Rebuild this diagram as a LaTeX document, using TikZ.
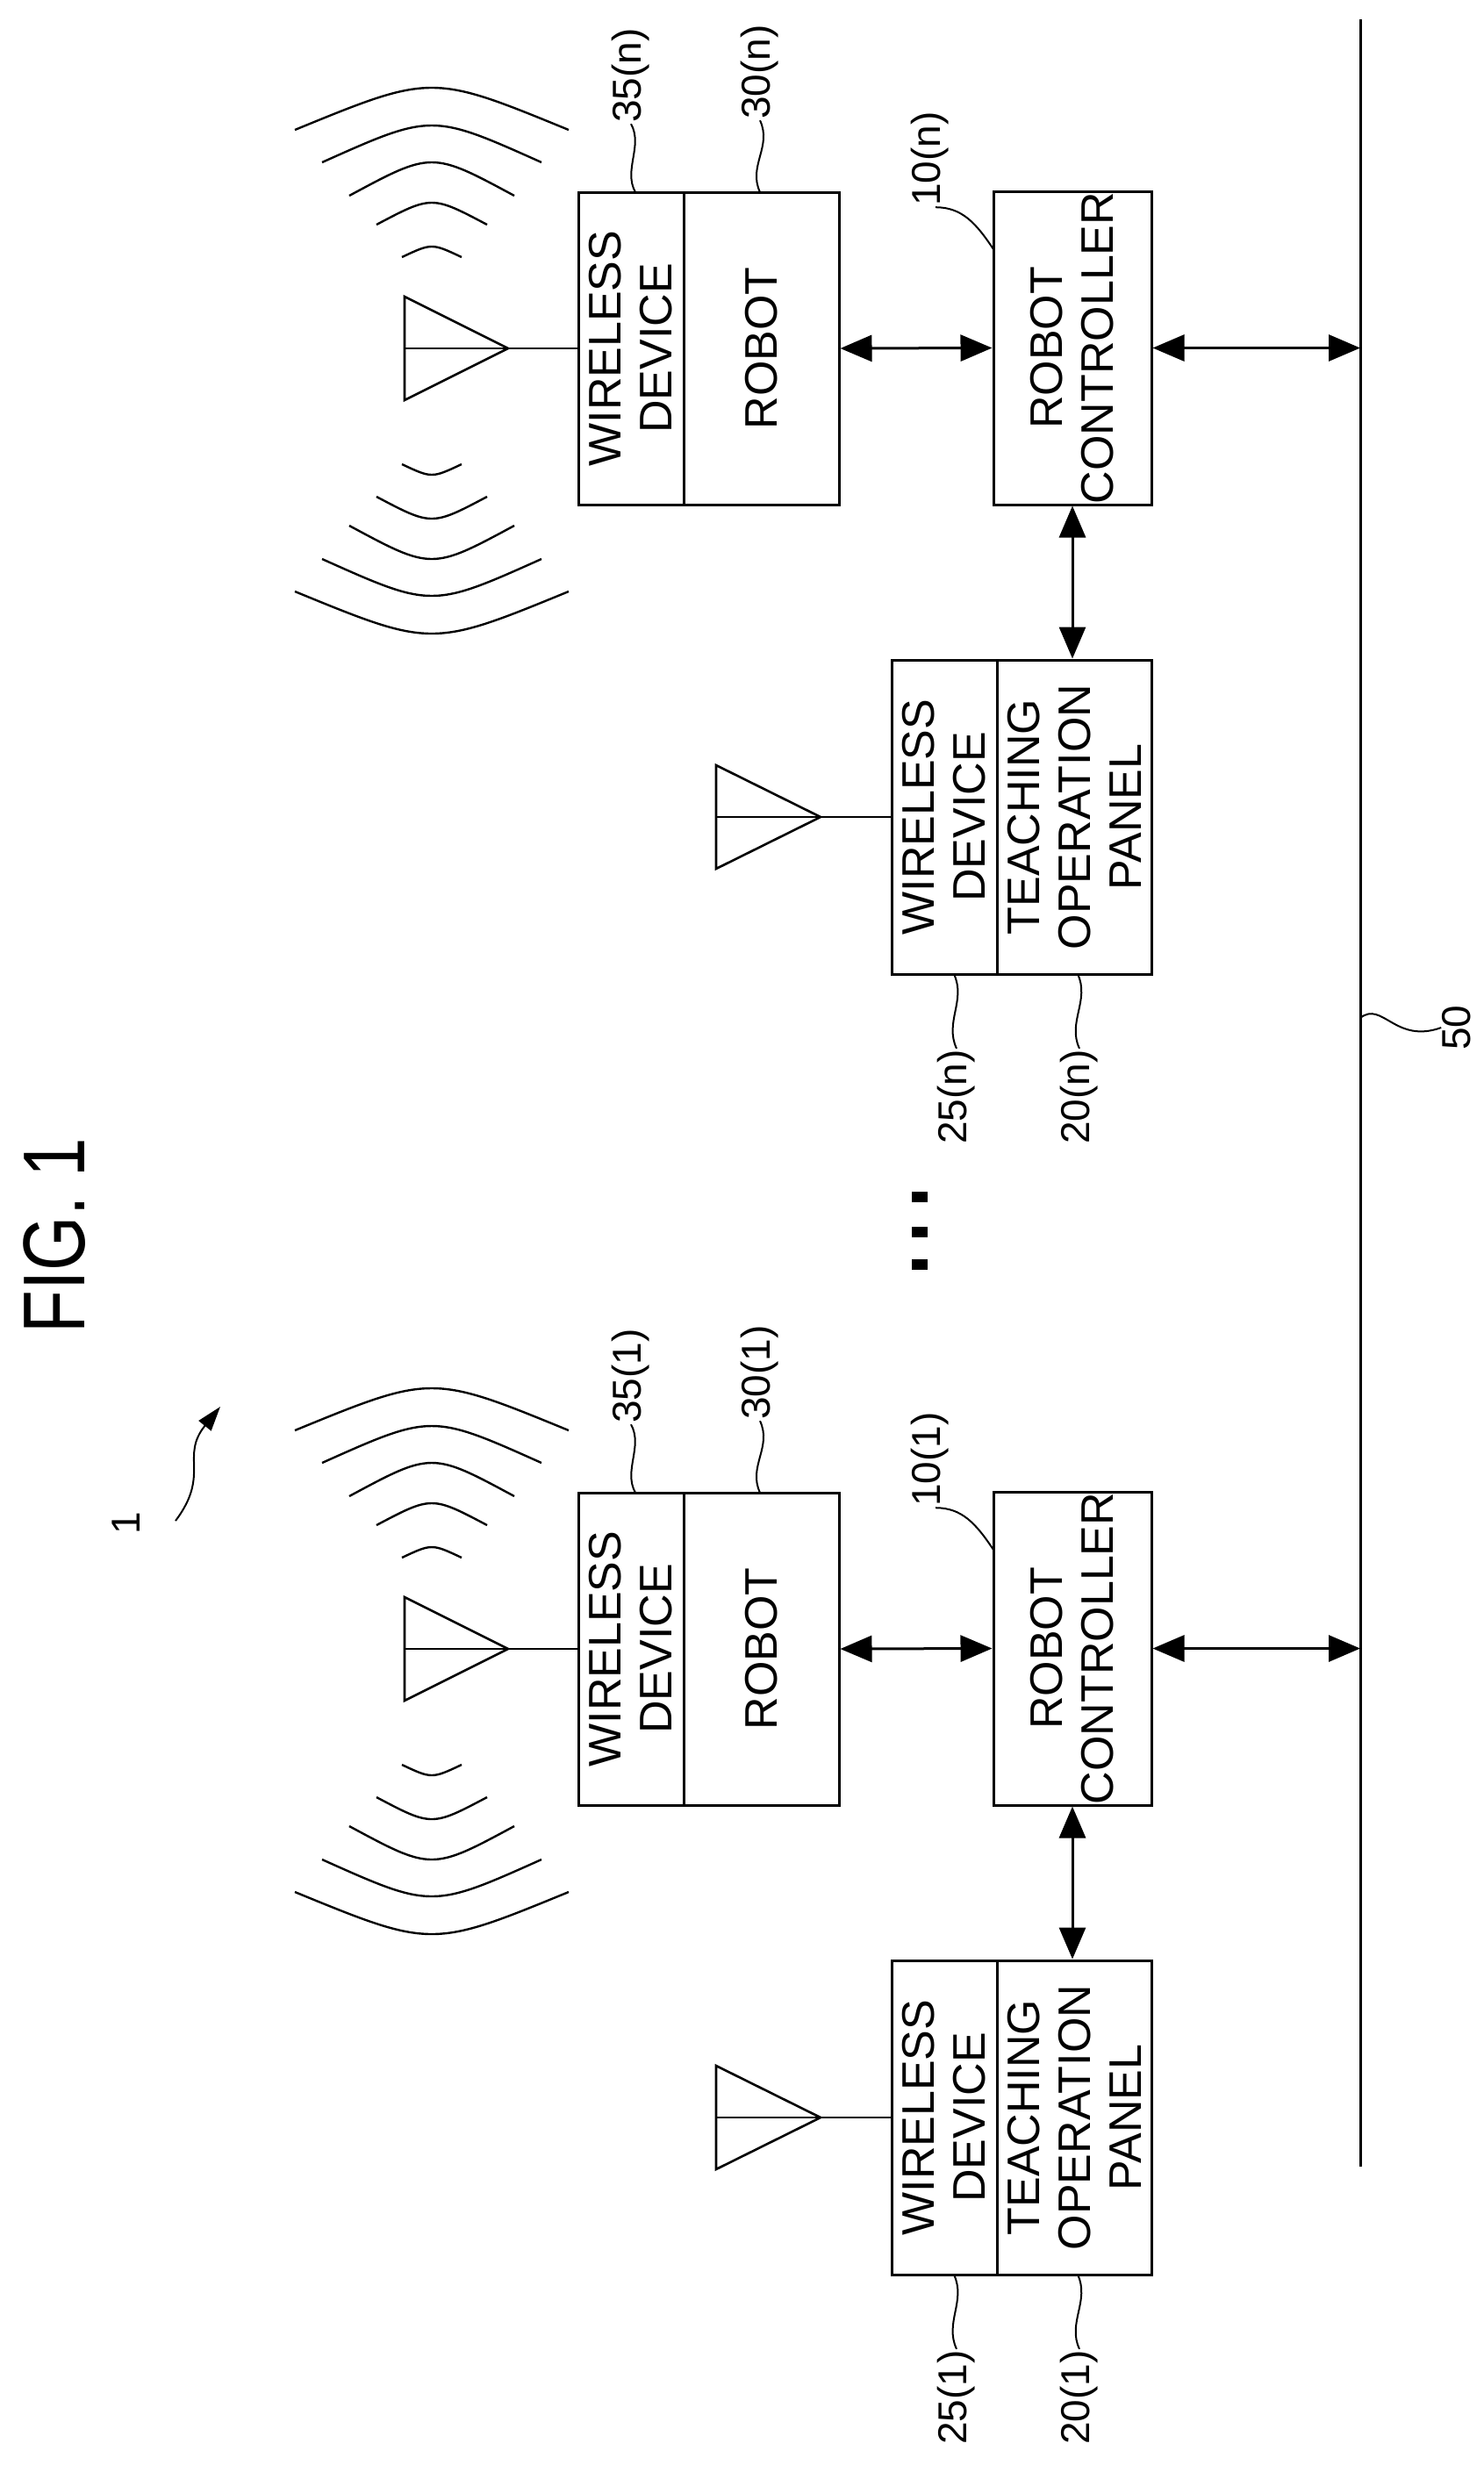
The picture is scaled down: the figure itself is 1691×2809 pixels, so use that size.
\documentclass[tikz,border=0pt]{standalone}
\usepackage{fontspec}
\setmainfont{Liberation Sans}
\usetikzlibrary{arrows.meta}
\begin{document}
\begin{tikzpicture}[x=1pt,y=-1pt, line width=3pt,
 box/.style={draw,rectangle,inner sep=0pt,line width=3pt},
 txt/.style={rotate=90,align=center,inner sep=0pt,font=\fontsize{52}{58}\selectfont},
 lab/.style={rotate=90,inner sep=0pt,font=\fontsize{46}{50}\selectfont},
 sq/.style={line width=2pt},
 dbl/.style={{Triangle[length=36pt,width=30pt]}-{Triangle[length=36pt,width=30pt]}}]
\useasboundingbox (0,0) rectangle (1691,2809);

\coordinate (busT) at (1550,22);
\coordinate (busB) at (1550,2469);
\draw (busT) -- (busB);

\newcommand\grp[3]{%
\begin{scope}[yshift=#1]
 % robot with wireless device
 \node[box,minimum width=120pt,minimum height=356pt] (wd#2) at (719,397) {};
 \node[box,minimum width=177pt,minimum height=356pt] (rb#2) at (867.5,397) {};
 \node[txt] at (wd#2) {WIRELESS\\DEVICE};
 \node[txt] at (rb#2) {ROBOT};
 % controller
 \node[box,minimum width=180pt,minimum height=357pt] (rc#2) at (1222,396.5) {};
 \node[txt] at (rc#2) {ROBOT\\CONTROLLER};
 % teaching panel
 \node[box,minimum width=120pt,minimum height=358pt] (tw#2) at (1076,931) {};
 \node[box,minimum width=176pt,minimum height=358pt] (tp#2) at (1224,931) {};
 \node[txt] at (tw#2) {WIRELESS\\DEVICE};
 \node[txt] at (tp#2) {TEACHING\\OPERATION\\PANEL};
 % robot antenna
 \coordinate (ap#2) at (579,397);
 \coordinate (ab#2) at (461,397);
 \draw[line width=2.6pt] (461,338) -- (ap#2) -- (461,456) -- cycle;
 \draw[line width=2.6pt] (ab#2) -- (ap#2) -- (wd#2.west);
 % teaching antenna
 \coordinate (tap#2) at (935,931);
 \coordinate (tab#2) at (816,931);
 \draw[line width=2.6pt] (816,872) -- (tap#2) -- (816,990) -- cycle;
 \draw[line width=2.6pt] (tab#2) -- (tap#2) -- (tw#2.west);
 % waves
 \foreach \w/\e/\p in {34/118/130,63/155/180,94/188/226,125/226/268,156/263/311}{
   \draw[line width=2.4pt] ({492-\w},{411-\e}) .. controls (492,{411-\e-4/3*(\p-\e)}) .. ({492+\w},{411-\e});
   \draw[line width=2.4pt] ({492-\w},{411+\e}) .. controls (492,{411+\e+4/3*(\p-\e)}) .. ({492+\w},{411+\e});
 }
 % connectors
 \draw[dbl] (rb#2.east) -- (rc#2.west);
 \draw[dbl] (rc#2.east) -- (rc#2.east -| busT);
 \draw[dbl] (rc#2.south) -- (rc#2.south |- tp#2.north);
 % labels
 \node[lab] (l35#2) at (719,86) {35(#3)};
 \node[lab] (l30#2) at (866,82) {30(#3)};
 \node[lab] (l10#2) at (1060,181) {10(#3)};
 \node[lab] (l25#2) at (1090,1250) {25(#3)};
 \node[lab] (l20#2) at (1230,1250) {20(#3)};
 \coordinate (s35#2) at (724,219);
 \coordinate (s30#2) at (866,219);
 \coordinate (s10#2) at (1132,284);
 \coordinate (s25#2) at (1087,1110);
 \coordinate (s20#2) at (1228,1110);
 \draw[sq] (l35#2.west) .. controls +(14,25) and +(-14,-25) .. (s35#2);
 \draw[sq] (l30#2.west) .. controls +(14,30) and +(-14,-30) .. (s30#2);
 \draw[sq] ([xshift=6pt]l10#2.west) .. controls +(30,0) and +(-20,-30) .. (s10#2);
 \draw[sq] (l25#2.east) .. controls +(-14,-30) and +(14,30) .. (s25#2);
 \draw[sq] (l20#2.east) .. controls +(-14,-30) and +(14,30) .. (s20#2);
\end{scope}}

\grp{0pt}{n}{n}
\grp{-1482pt}{o}{1}

% title and reference
\node[rotate=90,inner sep=0pt,font=\fontsize{100}{100}\selectfont] (fig) at (62,1408) {\scalebox{0.8}[1]{FIG. 1}};
\node[lab] (l1) at (144,1736) {1};
\coordinate (a1s) at (200,1733);
\coordinate (a1e) at (251,1603);
\draw[sq,-{Triangle[length=28pt,width=18pt]}] (a1s) .. controls (240,1680) and (205,1660) .. (a1e);

% dots
\foreach \yy in {1364,1404,1441}{\fill (1039,\yy-6) rectangle (1057,\yy+6);}

% bus label
\node[lab] (l50) at (1660,1171) {50};
\coordinate (b50) at (1550,1160);
\draw[sq] (b50) .. controls (1575,1140) and (1590,1190) .. (l50.north);
\end{tikzpicture}
\end{document}
